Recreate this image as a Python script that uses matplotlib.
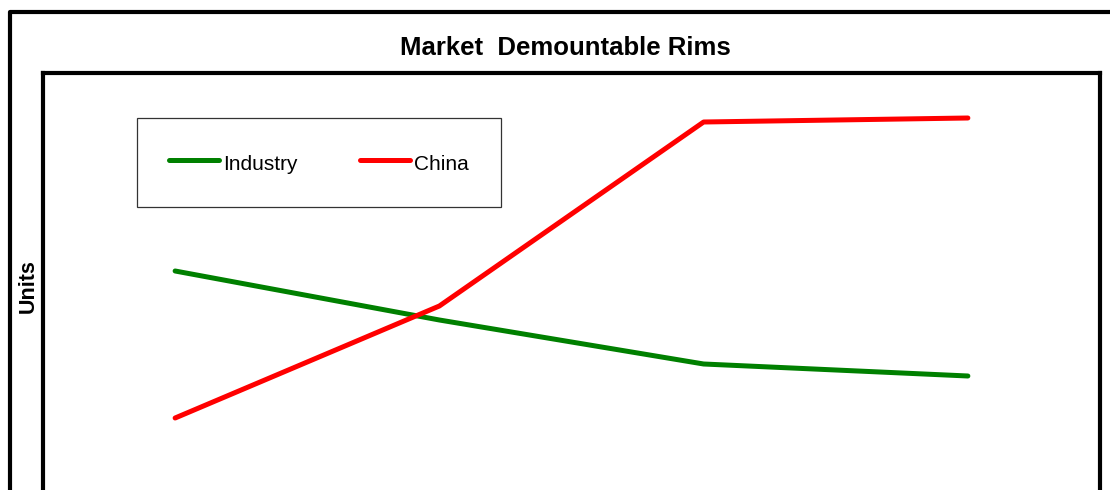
import matplotlib.pyplot as plt
from matplotlib.patches import Rectangle

plt.rcParams['font.family'] = ['Liberation Sans', 'DejaVu Sans']

categories = ['1', '2', '3', '4']
industry = [60.4, 50.6, 41.8, 39.4]
china = [31.0, 53.4, 90.2, 91.0]

W, H = 1110, 490
fig = plt.figure(figsize=(W / 100, H / 100), dpi=100)

# outer chart frame (runs off right/bottom like the crop)
fig.patches.append(Rectangle((10 / W, -0.1), 1.2, 1 - 12 / H + 0.1, transform=fig.transFigure,
                             fill=False, lw=3, ec='black', joinstyle='round'))

# plot area: left 43px, right 1100px, top 73px, bottom beyond the image
ax = fig.add_axes([43 / W, (H - 573) / H, 1057 / W, 500 / H])
ax.plot(range(len(categories)), industry, color='#008000', lw=3.6, label='Industry',
        solid_capstyle='round')
ax.plot(range(len(categories)), china, color='#ff0000', lw=3.6, label='China',
        solid_capstyle='round')
ax.set_xlim(-0.5, len(categories) - 0.5)
ax.set_ylim(0, 100)
ax.set_xticks([])
ax.set_yticks([])
for s in ax.spines.values():
    s.set_linewidth(3)
    s.set_color('black')

fig.text(565 / W, 1 - 48 / H, 'Market  Demountable Rims', ha='center', va='center',
         fontsize=18.5, fontweight='bold')
fig.text(28 / W, 1 - 286 / H, 'Units', ha='center', va='center', rotation=90,
         fontsize=15.5, fontweight='bold')

leg = ax.legend(ncol=2, loc='upper left', bbox_to_anchor=(137 / W, 1 - 118 / H),
                bbox_transform=fig.transFigure, fontsize=15, frameon=True, fancybox=False,
                handlelength=2.4, handleheight=1.45, handletextpad=0.2, columnspacing=2.98,
                borderpad=1.55, borderaxespad=0)
leg.get_frame().set_edgecolor('black')
leg.get_frame().set_linewidth(0.9)

fig.savefig('out.png', dpi=100)
